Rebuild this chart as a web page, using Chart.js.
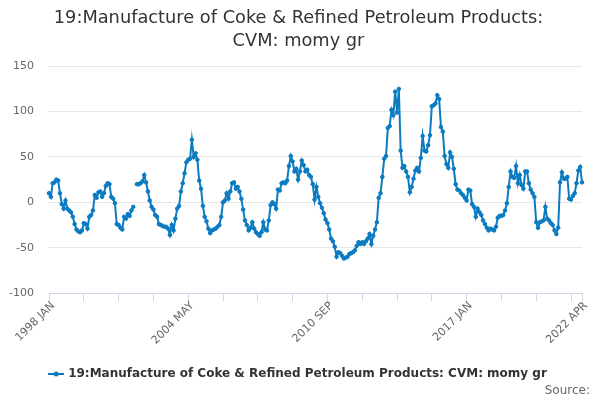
<!DOCTYPE html>
<html lang="en">
<head>
<meta charset="UTF-8">
<title>19:Manufacture of Coke &amp; Refined Petroleum Products: CVM: momy gr</title>
<script src="https://cdn.jsdelivr.net/npm/chart.js@4"></script>
<style>
  html, body { margin: 0; padding: 0; background: #fff; }
  #wrap { position: relative; width: 600px; height: 400px; }
  #source { position: absolute; right: 10px; bottom: 3px; font: 12px "DejaVu Sans", sans-serif; color: #666; }
</style>
</head>
<body>
<div id="wrap">
  <canvas id="chart" width="600" height="400"></canvas>
  <div id="source">Source:</div>
</div>
<script>
// categories: monthly, 1998 JAN .. 2022 APR
const years = [1998, 1999, 2000, 2001, 2002, 2003, 2004, 2005, 2006, 2007, 2008, 2009,
               2010, 2011, 2012, 2013, 2014, 2015, 2016, 2017, 2018, 2019, 2020, 2021, 2022];
const monthNames = ['JAN', 'FEB', 'MAR', 'APR', 'MAY', 'JUN', 'JUL', 'AUG', 'SEP', 'OCT', 'NOV', 'DEC'];
const monthsInLastYear = 4;

// momy growth (%); null = no value
const momyGrowth = [
  10, 6, 21, 22, 25, 24, 10, -2, -7, 2, -7, -9,            // 1998
  -11, -16, -24, -30, -32, -33, -31, -23, -24, -29, -16, -14, // 1999
  -9, 8, 5, 11, 12, 6, 10, 18, 21, 20, 6, 4,                // 2000
  -1, -24, -25, -28, -30, -16, -18, -13, -15, -9, -5, null, // 2001
  20, 20, 21, 23, 30, 22, 12, 2, -5, -8, -14, -16,          // 2002
  -24, -25, -26, -27, -27, -29, -36, -25, -31, -18, -7, -4, // 2003
  12, 21, 32, 44, 47, 48, 69, 50, 54, 47, 24, 15,           // 2004
  -4, -16, -21, -29, -34, -31, -30, -29, -27, -25, -16, 0,  // 2005
  2, 10, 4, 12, 21, 22, 15, 17, 12, 4, -8, -20,             // 2006
  -25, -31, -28, -22, -29, -33, -35, -37, -33, -22, -30, -31, // 2007
  -20, -3, 0, -2, -7, 14, 13, 21, 22, 21, 24, 40,           // 2008
  51, 45, 34, 37, 25, 34, 46, 41, 34, 36, 30, 28,           // 2009
  20, 3, 17, 6, -1, -6, -12, -19, -23, -30, -40, -43,       // 2010
  -49, -60, -55, -56, -59, -62, -61, -60, -57, -56, -55, -53, // 2011
  -48, -44, -46, -44, -46, -43, -40, -35, -46, -37, -30, -22, // 2012
  5, 10, 28, 48, 51, 82, 84, 102, 96, 122, 99, 125,         // 2013
  57, 38, 40, 34, 28, 11, 17, 26, 35, 38, 34, 49,           // 2014
  73, 57, 56, 63, 74, 106, 107, 109, 118, 114, 83, 78,      // 2015
  51, 42, 38, 55, 50, 37, 20, 14, 13, 10, 8, 5,             // 2016
  2, 14, 13, -2, -5, -16, -7, -11, -14, -20, -24, -28,      // 2017
  -31, -29, -30, -31, -27, -17, -15, -15, -14, -9, -1, 17,  // 2018
  34, 28, 27, 40, 21, 30, 19, 15, 34, 34, 21, 14,           // 2019
  10, 6, -22, -28, -22, -21, -20, -5, -18, -20, -23, -25,   // 2020
  -31, -35, -28, 22, 33, 26, 26, 28, 4, 3, 7, 10,           // 2021
  21, 35, 39, 22                                            // 2022
];

const yTicks = [-100, -50, 0, 50, 100, 150];
const tickEvery = 19;   // months between tick marks
const labelEvery = 76;  // months between tick labels

const titleLines = ['19:Manufacture of Coke & Refined Petroleum Products:', 'CVM: momy gr'];
const seriesName = '19:Manufacture of Coke & Refined Petroleum Products: CVM: momy gr';

const monthLabels = [];
years.forEach((y, yi) => {
  const n = yi === years.length - 1 ? monthsInLastYear : 12;
  for (let m = 0; m < n; m++) monthLabels.push(y + ' ' + monthNames[m]);
});
const lastIndex = monthLabels.length - 1;

const blue = '#0b7bc1';
const fontFamily = '"DejaVu Sans", sans-serif';

// legend glyph: short line with a dot
const glyph = document.createElement('canvas');
glyph.width = 16; glyph.height = 8;
const g = glyph.getContext('2d');
g.strokeStyle = blue; g.lineWidth = 2;
g.beginPath(); g.moveTo(0, 4); g.lineTo(16, 4); g.stroke();
g.fillStyle = blue;
g.beginPath(); g.arc(8, 4, 2.5, 0, Math.PI * 2); g.fill();

// x labels drawn rotated under the tick marks, hanging left like the original
const xLabelPlugin = {
  id: 'xLabels',
  afterLayout(chart) {
    // let the y labels use the page padding instead of being clipped to the axis box
    chart.scales.y.left = 0;
  },
  afterDraw(chart) {
    const xs = chart.scales.x;
    const c = chart.ctx;
    c.save();
    c.fillStyle = '#666';
    c.font = '11px ' + fontFamily;
    c.textAlign = 'right';
    c.textBaseline = 'middle';
    monthLabels.forEach((lab, i) => {
      if (i % labelEvery !== 0 && i !== lastIndex) return;
      c.save();
      c.translate(xs.getPixelForValue(i) + 4, xs.top + 11);
      c.rotate(-Math.PI / 4);
      c.fillText(lab, 0, 0);
      c.restore();
    });
    c.restore();
  }
};

const ctx = document.getElementById('chart').getContext('2d');
new Chart(ctx, {
  type: 'line',
  data: {
    labels: monthLabels,
    datasets: [{
      label: seriesName,
      data: momyGrowth,
      borderColor: blue,
      backgroundColor: blue,
      borderWidth: 2,
      pointRadius: 1.8,
      pointBackgroundColor: blue,
      pointBorderColor: blue,
      pointBorderWidth: 1,
      tension: 0,
      spanGaps: false
    }]
  },
  plugins: [xLabelPlugin],
  options: {
    responsive: false,
    animation: false,
    layout: { padding: { left: 15, right: 18, top: 2, bottom: 10 } },
    plugins: {
      title: {
        display: true,
        text: titleLines,
        color: '#333',
        font: { family: fontFamily, size: 17.8, weight: 'normal', lineHeight: 1.3 },
        padding: { top: 5, bottom: 13 }
      },
      legend: {
        position: 'bottom',
        labels: {
          usePointStyle: true,
          pointStyle: glyph,
          color: '#333',
          font: { family: fontFamily, size: 12, weight: 'bold' },
          padding: 10
        }
      },
      tooltip: { enabled: false }
    },
    scales: {
      x: {
        type: 'category',
        offset: false,
        afterFit: s => { s.height = 65; },
        grid: {
          drawOnChartArea: false,
          drawTicks: true,
          tickLength: 8,
          tickColor: c => (c.index % tickEvery === 0 || c.index === lastIndex) ? '#ccd6eb' : 'rgba(0,0,0,0)'
        },
        border: { color: '#ccd6eb' },
        ticks: { display: false, autoSkip: false }
      },
      y: {
        min: -100,
        max: 150,
        afterBuildTicks: s => { s.ticks = yTicks.map(v => ({ value: v })); },
        afterFit: s => { s.width = 34; },
        grid: { color: '#e6e6e6', drawTicks: false },
        border: { display: false },
        ticks: {
          color: '#666',
          font: { family: fontFamily, size: 11 },
          padding: 15
        }
      }
    }
  }
});
</script>
</body>
</html>
